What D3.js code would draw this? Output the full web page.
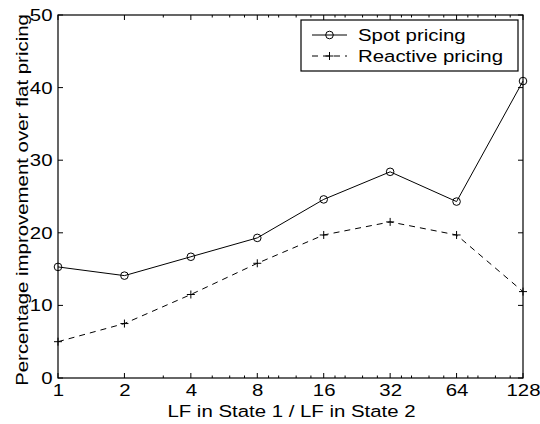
<!DOCTYPE html>
<html><head><meta charset="utf-8">
<script src="https://cdn.jsdelivr.net/npm/d3@7"></script>
<style>body{margin:0;background:#fff}text{font-family:"Liberation Sans",Arial,sans-serif}</style>
</head><body><svg id="c" width="540" height="424"></svg>
<script>
const xValues = [1, 2, 4, 8, 16, 32, 64, 128];
const spotPricing = [15.3, 14.1, 16.7, 19.3, 24.6, 28.4, 24.3, 40.9];
const reactivePricing = [5.0, 7.5, 11.5, 15.8, 19.7, 21.5, 19.7, 11.9];
const xTicks = [1, 2, 4, 8, 16, 32, 64, 128];
const xMinorTicks = [3, 5, 6, 7, 9, 10, 12, 14, 18, 20, 24, 28, 36, 40, 48, 56, 72, 80, 96, 112];
const yTicks = [0, 10, 20, 30, 40, 50];
const seriesNames = ["Spot pricing", "Reactive pricing"];

const svg = d3.select("#c");
const L = 58, R = 523, T = 15, B = 378;
const FS = 17, SX = 1.2;
const x = d3.scaleLog().base(2).domain([1, 128]).range([L, R]);
const y = d3.scaleLinear().domain([0, 50]).range([B, T]);

function txt(parent, tx, ty, s, anchor, rot) {
  return parent.append("text")
    .attr("transform", rot ? `translate(${tx},${ty}) rotate(-90) scale(${SX},1)` : `translate(${tx},${ty}) scale(${SX},1)`)
    .attr("text-anchor", anchor || "start").attr("font-size", FS).text(s);
}

// ticks
const g = svg.append("g").attr("stroke", "#000").attr("stroke-width", 1);
xTicks.forEach(v => {
  g.append("line").attr("x1", x(v)).attr("x2", x(v)).attr("y1", B).attr("y2", B - 5);
  g.append("line").attr("x1", x(v)).attr("x2", x(v)).attr("y1", T).attr("y2", T + 5);
});
xMinorTicks.forEach(v => {
  g.append("line").attr("x1", x(v)).attr("x2", x(v)).attr("y1", B).attr("y2", B - 2.5);
  g.append("line").attr("x1", x(v)).attr("x2", x(v)).attr("y1", T).attr("y2", T + 2.5);
});
yTicks.forEach(v => {
  g.append("line").attr("x1", L).attr("x2", L + 5).attr("y1", y(v)).attr("y2", y(v));
  g.append("line").attr("x1", R).attr("x2", R - 5).attr("y1", y(v)).attr("y2", y(v));
});
svg.append("rect").attr("x", L).attr("y", T).attr("width", R - L).attr("height", B - T)
  .attr("fill", "none").attr("stroke", "#000").attr("stroke-width", 1.2);

// tick labels
xTicks.forEach(d => txt(svg, x(d) + 0.5, 396, d, "middle"));
yTicks.forEach(d => txt(svg, 52.5, y(d) + 6, d, "end"));

// axis labels
txt(svg, (L + R) / 2 + 1, 417, "LF in State 1 / LF in State 2", "middle");
txt(svg, 28, 200, "Percentage improvement over flat pricing", "middle", true);

// lines
const line = d3.line().x((d, i) => x(xValues[i])).y(d => y(d));
svg.append("path").datum(spotPricing).attr("d", line).attr("fill", "none")
  .attr("stroke", "#000").attr("stroke-width", 1);
svg.append("path").datum(reactivePricing).attr("d", line).attr("fill", "none")
  .attr("stroke", "#000").attr("stroke-width", 1).attr("stroke-dasharray", "6,5");

svg.selectAll(".c").data(spotPricing).enter().append("circle")
  .attr("cx", (d, i) => x(xValues[i])).attr("cy", d => y(d)).attr("r", 3.8)
  .attr("fill", "none").attr("stroke", "#000").attr("stroke-width", 1);
function plus(sel, cx, cy, s) {
  sel.append("path").attr("d", `M${cx - s},${cy}H${cx + s}M${cx},${cy - s}V${cy + s}`)
    .attr("stroke", "#000").attr("stroke-width", 1);
}
reactivePricing.forEach((d, i) => plus(svg, x(xValues[i]), y(d), 4));

// legend
const lg = svg.append("g");
lg.append("rect").attr("x", 301).attr("y", 20).attr("width", 217).attr("height", 51)
  .attr("fill", "#fff").attr("stroke", "#000").attr("stroke-width", 1.2);
lg.append("line").attr("x1", 312).attr("x2", 347).attr("y1", 35).attr("y2", 35)
  .attr("stroke", "#000");
lg.append("circle").attr("cx", 329.5).attr("cy", 35).attr("r", 3.8).attr("fill", "none").attr("stroke", "#000");
lg.append("line").attr("x1", 312).attr("x2", 347).attr("y1", 56).attr("y2", 56)
  .attr("stroke", "#000").attr("stroke-dasharray", "6,5");
plus(lg, 329.5, 56, 4);
txt(lg, 358, 41, seriesNames[0]);
txt(lg, 358, 62, seriesNames[1]);
</script></body></html>
